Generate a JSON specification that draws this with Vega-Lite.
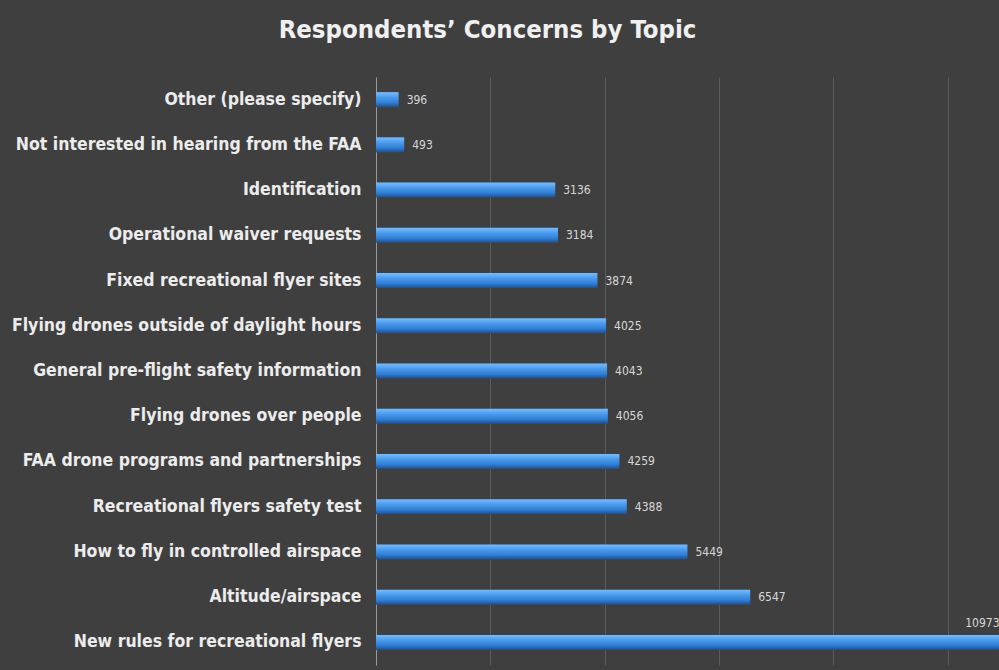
{
  "$schema": "https://vega.github.io/schema/vega-lite/v6.json",
  "width": 623,
  "height": 588,
  "autosize": "none",
  "padding": {"left": 376, "top": 77, "right": 0, "bottom": 5},
  "background": "#3f3f3f",
  "title": {
    "text": "Respondents’ Concerns by Topic",
    "anchor": "middle",
    "frame": "group",
    "dx": -200,
    "offset": 34,
    "font": "DejaVu Sans Condensed",
    "fontSize": 25.5,
    "fontWeight": "bold",
    "color": "#f0f0f0"
  },
  "config": {
    "view": {"stroke": null},
    "font": "DejaVu Sans Condensed"
  },
  "data": {
    "values": [
      {"topic": "Other (please specify)", "count": 396},
      {"topic": "Not interested in hearing from the FAA", "count": 493},
      {"topic": "Identification", "count": 3136},
      {"topic": "Operational waiver requests", "count": 3184},
      {"topic": "Fixed recreational flyer sites", "count": 3874},
      {"topic": "Flying drones outside of daylight hours", "count": 4025},
      {"topic": "General pre-flight safety information", "count": 4043},
      {"topic": "Flying drones over people", "count": 4056},
      {"topic": "FAA drone programs and partnerships", "count": 4259},
      {"topic": "Recreational flyers safety test", "count": 4388},
      {"topic": "How to fly in controlled airspace", "count": 5449},
      {"topic": "Altitude/airspace", "count": 6547},
      {"topic": "New rules for recreational flyers", "count": 10973}
    ]
  },
  "encoding": {
    "y": {
      "field": "topic",
      "type": "nominal",
      "sort": null,
      "title": null,
      "axis": {
        "labelFont": "DejaVu Sans Condensed",
        "labelFontSize": 17.5,
        "labelFontWeight": "bold",
        "labelColor": "#ececec",
        "labelPadding": 15,
        "labelLimit": 400,
        "ticks": false,
        "domain": true,
        "domainColor": "#9a9a9a",
        "domainWidth": 1
      }
    },
    "x": {
      "field": "count",
      "type": "quantitative",
      "scale": {"domain": [0, 10900], "nice": false},
      "title": null,
      "axis": {
        "labels": false,
        "ticks": false,
        "domain": false,
        "grid": true,
        "gridColor": "#777777",
        "gridOpacity": 0.5,
        "values": [2000, 4000, 6000, 8000, 10000]
      }
    }
  },
  "layer": [
    {
      "mark": {
        "type": "bar",
        "height": 15,
        "clip": true,
        "color": {
          "gradient": "linear",
          "x1": 0, "y1": 0, "x2": 0, "y2": 1,
          "stops": [
            {"offset": 0, "color": "#7cbcf7"},
            {"offset": 0.35, "color": "#4a9bec"},
            {"offset": 0.7, "color": "#2f7fd6"},
            {"offset": 1, "color": "#1a4f94"}
          ]
        }
      }
    },
    {
      "transform": [{"filter": "datum.count < 10000"}],
      "mark": {
        "type": "text",
        "align": "left",
        "dx": 8,
        "fontSize": 12,
        "font": "DejaVu Sans Condensed",
        "color": "#d8d8d8"
      },
      "encoding": {"text": {"field": "count", "type": "quantitative"}}
    },
    {
      "transform": [{"filter": "datum.count >= 10000"}],
      "mark": {
        "type": "text",
        "align": "left",
        "dx": -38,
        "dy": -19,
        "fontSize": 12,
        "font": "DejaVu Sans Condensed",
        "color": "#d8d8d8"
      },
      "encoding": {"text": {"field": "count", "type": "quantitative"}}
    }
  ]
}
